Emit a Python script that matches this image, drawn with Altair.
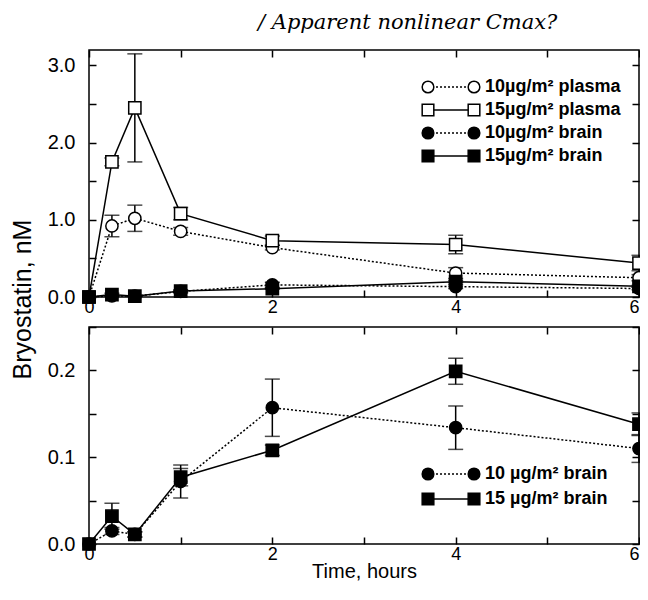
import altair as alt
import pandas as pd

# ---------------- data ----------------
time = [0, 0.25, 0.5, 1, 2, 4, 6]

plasma10 = [0, 0.92, 1.02, 0.85, 0.64, 0.31, 0.25]
plasma10_err = [0, 0.14, 0.17, 0.05, 0.03, 0.07, 0.04]
plasma15 = [0, 1.75, 2.45, 1.08, 0.73, 0.68, 0.44]
plasma15_err = [0, 0.05, 0.70, 0.08, 0.06, 0.12, 0.10]
brain10 = [0, 0.015, 0.011, 0.072, 0.157, 0.134, 0.110]
brain10_err = [0, 0.004, 0.003, 0.019, 0.033, 0.025, 0.016]
brain15 = [0, 0.032, 0.011, 0.077, 0.108, 0.199, 0.138]
brain15_err = [0, 0.015, 0.003, 0.010, 0.006, 0.015, 0.013]

top_names = ["10µg/m² plasma", "15µg/m² plasma", "10µg/m² brain", "15µg/m² brain"]
bottom_names = ["10 µg/m² brain", "15 µg/m² brain"]
annotation = ["/ Apparent nonlinear Cmax?"]

top_ticks_y = [0, 0.5, 1.0, 1.5, 2.0, 2.5, 3.0]
bottom_ticks_y = [0, 0.05, 0.1, 0.15, 0.2, 0.25]
x_ticks = [0, 1, 2, 3, 4, 5, 6]

FONT = "Liberation Sans"
PLOT_W = 550

# series definitions
series_top = [
    dict(name=top_names[0], vals=plasma10, errs=plasma10_err, shape="circle", fill="white", dotted=True),
    dict(name=top_names[1], vals=plasma15, errs=plasma15_err, shape="square", fill="white", dotted=False),
    dict(name=top_names[2], vals=brain10, errs=brain10_err, shape="circle", fill="black", dotted=True),
    dict(name=top_names[3], vals=brain15, errs=brain15_err, shape="square", fill="black", dotted=False),
]
series_bottom = [
    dict(name=bottom_names[0], vals=brain10, errs=brain10_err, shape="circle", fill="black", dotted=True),
    dict(name=bottom_names[1], vals=brain15, errs=brain15_err, shape="square", fill="black", dotted=False),
]


def x_axis(orient, labels, title=None):
    kw = dict(orient=orient, values=x_ticks, offset=-7, tickSize=7, tickWidth=1.5,
              tickColor="black", domain=False, grid=False, labels=labels)
    if labels:
        kw.update(labelExpr="datum.value % 2 == 0 ? datum.label : ''", format="d",
                  labelPadding=1, labelFont=FONT, labelFontSize=18, labelColor="black",
                  labelFlush=False,
                  labelAlign={"condition": {"test": "datum.value == 6", "value": "right"},
                              "value": "center"})
    if title:
        kw.update(title=title, titleFont=FONT, titleFontSize=20, titleFontWeight="normal",
                  titleColor="black", titleBaseline="alphabetic", titleY=40)
    else:
        kw.update(title=None)
    return alt.Axis(**kw)


def y_axis(orient, labels, values, expr, title=None):
    kw = dict(orient=orient, values=values, offset=-7, tickSize=7, tickWidth=1.5,
              tickColor="black", domain=False, grid=False, labels=labels)
    if labels:
        kw.update(labelExpr=expr, labelPadding=14, labelFont=FONT,
                  labelFontSize=20, labelColor="black")
    if title:
        kw.update(title=title, titleFont=FONT, titleFontSize=25, titleFontWeight="normal",
                  titleColor="black", titleBaseline="alphabetic", titleAngle=270,
                  titleAlign="center", titleX=-66, titleY=249)
    else:
        kw.update(title=None)
    return alt.Axis(**kw)


# legend geometry (pixels inside the plot area)
LEG_X_LEFT = 339
LEG_X_RIGHT = 385
LEG_X_TEXT = 396


def panel(series, ydomain, yvalues, yexpr, height, leg_y0, leg_dy,
          x_title=None, y_title=None, note=None):
    rows = []
    for s in series:
        for t, v, e in zip(time, s["vals"], s["errs"]):
            rows.append(dict(series=s["name"], t=t, v=v, lo=v - e, hi=v + e, err=e))
    df = pd.DataFrame(rows)
    xs = alt.Scale(domain=[0, 6], nice=False, zero=False)
    ys = alt.Scale(domain=ydomain, nice=False, zero=False)
    base = alt.Chart(df)
    layers = []

    # error bars
    err = base.transform_filter("datum.err > 0")
    layers.append(err.mark_rule(color="black", strokeWidth=1.5).encode(
        x=alt.X("t:Q", scale=xs, axis=None),
        y=alt.Y("lo:Q", scale=ys, axis=None), y2="hi:Q"))
    for fld in ["lo", "hi"]:
        layers.append(err.mark_tick(orient="horizontal", size=15, thickness=1.5, color="black").encode(
            x=alt.X("t:Q", scale=xs, axis=None),
            y=alt.Y(f"{fld}:Q", scale=ys, axis=None)))

    # lines (first two carry the axes)
    for i, s in enumerate(series):
        if i == 0:
            xa = x_axis("bottom", True, x_title)
            ya = y_axis("left", True, yvalues, yexpr, y_title)
        elif i == 1:
            xa = x_axis("top", False)
            ya = y_axis("right", False, yvalues, yexpr)
        else:
            xa = None
            ya = None
        lkw = dict(color="black", strokeWidth=1.5)
        if s["dotted"]:
            lkw["strokeDash"] = [2, 2]
        layers.append(base.transform_filter(alt.datum.series == s["name"]).mark_line(**lkw).encode(
            x=alt.X("t:Q", scale=xs, axis=xa),
            y=alt.Y("v:Q", scale=ys, axis=ya)))

    # markers
    for s in series:
        layers.append(base.transform_filter(alt.datum.series == s["name"]).mark_point(
            shape=s["shape"], size=150, filled=True, fill=s["fill"], stroke="black",
            strokeWidth=1.5, opacity=1).encode(
            x=alt.X("t:Q", scale=xs, axis=None),
            y=alt.Y("v:Q", scale=ys, axis=None)))

    # legend drawn from the series table
    leg_df = pd.DataFrame({
        "name": [s["name"] for s in series],
        "row": list(range(len(series))),
        "shape": [s["shape"] for s in series],
        "fill": [s["fill"] for s in series],
        "dotted": [s["dotted"] for s in series],
    })
    lb = alt.Chart(leg_df).transform_calculate(py=f"{leg_y0} + datum.row * {leg_dy}")
    ypix = alt.Y("py:Q", scale=None, axis=None)
    layers.append(lb.transform_filter("datum.dotted").mark_rule(
        color="black", strokeWidth=1.5, strokeDash=[2, 2]).encode(
        x=alt.value(LEG_X_LEFT), x2=alt.value(LEG_X_RIGHT), y=ypix))
    layers.append(lb.transform_filter("!datum.dotted").mark_rule(
        color="black", strokeWidth=1.5).encode(
        x=alt.value(LEG_X_LEFT), x2=alt.value(LEG_X_RIGHT), y=ypix))
    for xp in [LEG_X_LEFT, LEG_X_RIGHT]:
        layers.append(lb.mark_point(size=135, filled=True, stroke="black", strokeWidth=1.5,
                                    opacity=1).encode(
            x=alt.value(xp), y=ypix,
            shape=alt.Shape("shape:N", scale=None),
            fill=alt.Fill("fill:N", scale=None)))
    layers.append(lb.mark_text(align="left", baseline="middle", font=FONT, fontSize=18,
                               fontWeight="bold", color="black").encode(
        x=alt.value(LEG_X_TEXT), y=ypix, text="name:N"))

    # handwritten-style annotation above the plot
    if note:
        layers.append(alt.Chart(pd.DataFrame({"note": note})).mark_text(
            align="left", baseline="alphabetic", font="DejaVu Serif", fontStyle="italic",
            fontSize=21, color="black").encode(
            x=alt.value(169), y=alt.value(-21), text="note:N"))

    return alt.layer(*layers).resolve_axis(x="independent", y="independent").properties(
        width=PLOT_W, height=height)


top = panel(series_top, [0, 3.2], top_ticks_y,
            "datum.value % 1 == 0 ? format(datum.value, '.1f') : ''",
            247, 37, 23, y_title="Bryostatin, nM", note=annotation)

bottom = panel(series_bottom, [0, 0.25], bottom_ticks_y,
               "round(datum.value * 100) % 10 == 0 ? format(datum.value, '.1f') : ''",
               217, 147, 25, x_title="Time, hours")

chart = alt.vconcat(top, bottom, spacing=30, bounds="flush").properties(
    autosize=alt.AutoSizeParams(type="none"),
    padding={"left": 81, "top": 42, "right": 1, "bottom": 532},
    background="white",
).configure_view(stroke="black", strokeWidth=1.5)

chart.save("out.html", embed_options={"renderer": "svg", "actions": False})
